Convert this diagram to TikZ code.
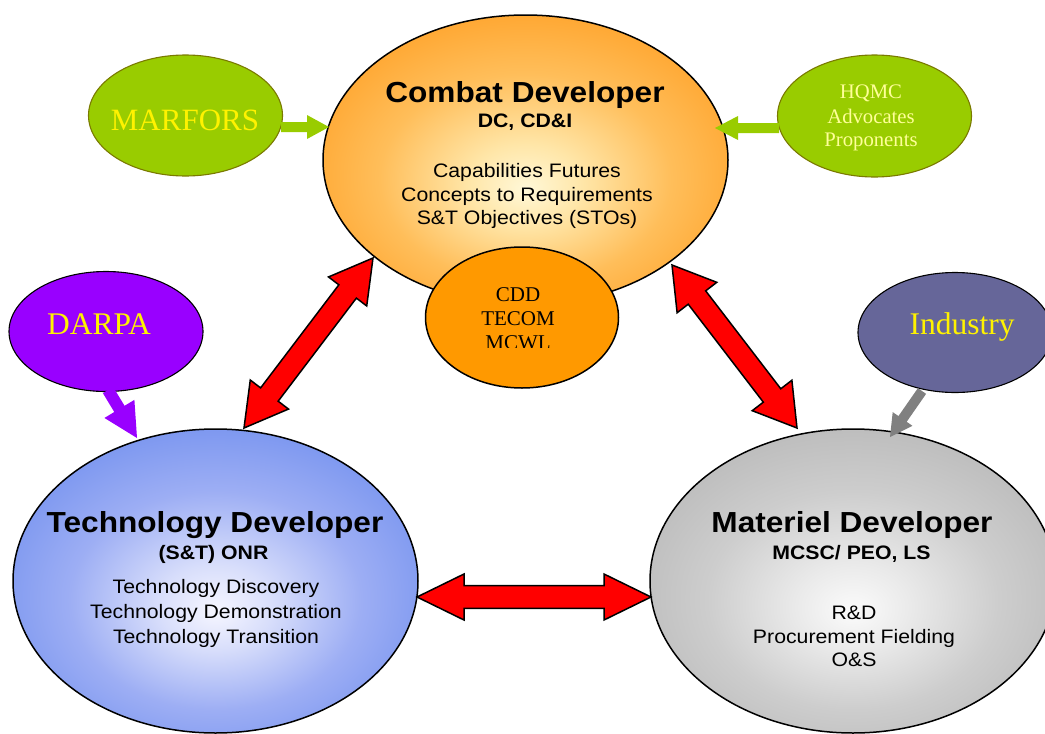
\documentclass[tikz,border=0pt]{standalone}
\usepackage{fontspec}
\newfontfamily\arialx{Liberation Sans}[FakeStretch=1.09]
\newfontfamily\timesx{Liberation Serif}
\usetikzlibrary{shapes.geometric,calc}
\definecolor{cddorange}{HTML}{FF9900}
\definecolor{ogreen}{HTML}{99CC00}
\definecolor{myolive}{HTML}{7A7A00}
\definecolor{dpurple}{HTML}{9900FF}
\definecolor{indslate}{HTML}{666699}
\definecolor{paleyellow}{HTML}{FFFF99}
\definecolor{arrowgrey}{HTML}{808080}
\definecolor{cin}{HTML}{FFF8D8}
\definecolor{cm1}{HTML}{FFE6A8}
\definecolor{cm2}{HTML}{FFBE5A}
\definecolor{cm3}{HTML}{FFA229}
\definecolor{cout}{HTML}{FF9A12}
\definecolor{tin}{HTML}{F6F6FF}
\definecolor{tm1}{HTML}{D8DEFB}
\definecolor{tm2}{HTML}{9DAEF4}
\definecolor{tm3}{HTML}{7592EF}
\definecolor{tout}{HTML}{6787EE}
\definecolor{gin}{HTML}{FBFBFB}
\definecolor{gm1}{HTML}{EAEAEA}
\definecolor{gm2}{HTML}{CDCDCD}
\definecolor{gm3}{HTML}{B9B9B9}
\definecolor{gout}{HTML}{B0B0B0}
\pgfdeclareradialshading{combatshade}{\pgfpoint{0bp}{-5bp}}{color(0bp)=(cin); color(7bp)=(cm1); color(18bp)=(cm2); color(30bp)=(cm3); color(40bp)=(cout); color(50bp)=(cout)}
\pgfdeclareradialshading{techshade}{\pgfpoint{0bp}{-5bp}}{color(0bp)=(tin); color(7bp)=(tm1); color(18bp)=(tm2); color(30bp)=(tm3); color(40bp)=(tout); color(50bp)=(tout)}
\pgfdeclareradialshading{matshade}{\pgfpoint{0bp}{-5bp}}{color(0bp)=(gin); color(7bp)=(gm1); color(18bp)=(gm2); color(30bp)=(gm3); color(40bp)=(gout); color(50bp)=(gout)}
% double-headed fat arrow: style, A, B, shaft half width, head half width, head length
\newcommand\fatarr[6]{%
  \draw[#1] (#2)
   -- ($ ($(#2)!#6!(#3)$)!#5!90:(#3) $)
   -- ($ ($(#2)!#6!(#3)$)!#4!90:(#3) $)
   -- ($ ($(#3)!#6!(#2)$)!#4!-90:(#2) $)
   -- ($ ($(#3)!#6!(#2)$)!#5!-90:(#2) $)
   -- (#3)
   -- ($ ($(#3)!#6!(#2)$)!#5!90:(#2) $)
   -- ($ ($(#3)!#6!(#2)$)!#4!90:(#2) $)
   -- ($ ($(#2)!#6!(#3)$)!#4!-90:(#3) $)
   -- ($ ($(#2)!#6!(#3)$)!#5!-90:(#3) $)
   -- cycle;}
% single-headed arrow from tail A to tip B
\newcommand\slimarr[6]{%
  \fill[#1] ($(#2)!#4!90:(#3)$)
   -- ($ ($(#3)!#6!(#2)$)!#4!-90:(#2) $)
   -- ($ ($(#3)!#6!(#2)$)!#5!-90:(#2) $)
   -- (#3)
   -- ($ ($(#3)!#6!(#2)$)!#5!90:(#2) $)
   -- ($ ($(#3)!#6!(#2)$)!#4!90:(#2) $)
   -- ($(#2)!#4!-90:(#3)$)
   -- cycle;}
\begin{document}
\begin{tikzpicture}[x=1pt,y=-1pt,
  bigell/.style={ellipse, draw=black, line width=1.5pt, inner sep=0pt},
  smallell/.style={ellipse, line width=1.1pt, inner sep=0pt, minimum width=194pt, minimum height=120pt},
  ttl/.style={font=\arialx\bfseries\fontsize{29}{29}\selectfont, anchor=base, inner sep=0pt},
  subt/.style={font=\arialx\bfseries\fontsize{19.5}{19.5}\selectfont, anchor=base, inner sep=0pt},
  body/.style={font=\arialx\fontsize{19.5}{19.5}\selectfont, anchor=base, inner sep=0pt},
  bigserif/.style={font=\timesx\fontsize{31.5}{31.5}\selectfont, anchor=base, inner sep=0pt},
  smallserif/.style={font=\timesx\fontsize{21}{21}\selectfont, anchor=base, inner sep=0pt},
  redarrow/.style={fill=red, draw=black, line width=1.5pt, line join=miter}]
\useasboundingbox (0,0) rectangle (1045,734);

% main ellipses
\node[bigell, shading=combatshade, minimum width=405pt, minimum height=290pt] (combat) at (525.5,160) {};
\node[bigell, shading=techshade, minimum width=405pt, minimum height=304pt] (tech) at (215.5,581) {};
\node[bigell, shading=matshade, minimum width=406pt, minimum height=304pt] (materiel) at (853,581) {};
\node[ellipse, draw=black, line width=1.5pt, fill=cddorange, inner sep=0pt, minimum width=193pt, minimum height=141pt] (cdd) at (522,317.5) {};

% small ellipses
\node[smallell, fill=ogreen, draw=myolive, minimum height=121pt] (marfors) at (185.5,115.5) {};
\node[smallell, fill=ogreen, draw=myolive, minimum height=122pt] (hqmc) at (874.5,116) {};
\node[smallell, fill=dpurple, draw=black] (darpa) at (106,331.5) {};
\node[smallell, fill=indslate, draw=black] (industry) at (955,332.5) {};

% combat developer text
\node[ttl] (combatT) at (525,102) {Combat Developer};
\node[subt] (combatS) at (525,127) {DC, CD\&I};
\node[body] (combatL1) at (527,177) {Capabilities Futures};
\node[body] (combatL2) at (527,201) {Concepts to Requirements};
\node[body] (combatL3) at (527,224) {S\&T Objectives (STOs)};

% technology developer text
\node[ttl] (techT) at (215,532) {Technology Developer};
\node[subt] (techS) at (213.5,559) {(S\&T) ONR};
\node[body] (techL1) at (216,593) {Technology Discovery};
\node[body] (techL2) at (216,618) {Technology Demonstration};
\node[body] (techL3) at (216,643) {Technology Transition};

% materiel developer text
\node[ttl] (matT) at (852,532) {Materiel Developer};
\node[subt] (matS) at (851.5,559) {MCSC/ PEO, LS};
\node[body] (matL1) at (854,619) {R\&D};
\node[body] (matL2) at (854,643) {Procurement Fielding};
\node[body] (matL3) at (854,666) {O\&S};

% CDD text (bottom line clipped as in the original)
\begin{scope}
\clip (420,250) rectangle (630,347);
\node[smallserif] (cddL1) at (518,301) {CDD};
\node[smallserif] (cddL2) at (518,325) {TECOM};
\node[smallserif] (cddL3) at (518,349) {MCWL};
\end{scope}

% small ellipse labels
\node[bigserif, text=yellow, font=\timesx\fontsize{31}{31}\selectfont] (marforsT) at (185,130) {MARFORS};
\node[smallserif, text=paleyellow, font=\timesx\fontsize{20.7}{20.7}\selectfont] (hqmcL1) at (871,98) {HQMC};
\node[smallserif, text=paleyellow, font=\timesx\fontsize{20.7}{20.7}\selectfont] (hqmcL2) at (871,123) {Advocates};
\node[smallserif, text=paleyellow, font=\timesx\fontsize{20.7}{20.7}\selectfont] (hqmcL3) at (871,146) {Proponents};
\node[bigserif, text=yellow] (darpaT) at (99,334) {DARPA};
\node[bigserif, text=yellow] (industryT) at (962,334) {Industry};

% connector end points
\coordinate (c1) at (373,258);
\coordinate (t1) at (244,428);
\coordinate (c2) at (672,265);
\coordinate (m2) at (797,428);
\coordinate (t3) at (417,597);
\coordinate (m3) at (651,597);
\coordinate (mf1) at (281,127);
\coordinate (mf2) at (329,127);
\coordinate (hq1) at (779,128);
\coordinate (hq2) at (715,128);
\coordinate (dp1) at (108,390);
\coordinate (dp2) at (137,438);
\coordinate (in1) at (922,391);
\coordinate (in2) at (890,437);

% red double arrows
\fatarr{redarrow}{c1}{t1}{11pt}{24pt}{42pt}
\fatarr{redarrow}{c2}{m2}{11pt}{25pt}{41pt}
\fatarr{redarrow}{t3}{m3}{11.3pt}{23pt}{47pt}

% small feeder arrows
\slimarr{ogreen}{mf1}{mf2}{5pt}{12pt}{22pt}
\slimarr{ogreen}{hq1}{hq2}{5pt}{12pt}{23pt}
\slimarr{dpurple}{dp1}{dp2}{6pt}{17.5pt}{34pt}
\slimarr{arrowgrey}{in1}{in2}{5pt}{12pt}{22pt}
\end{tikzpicture}
\end{document}
